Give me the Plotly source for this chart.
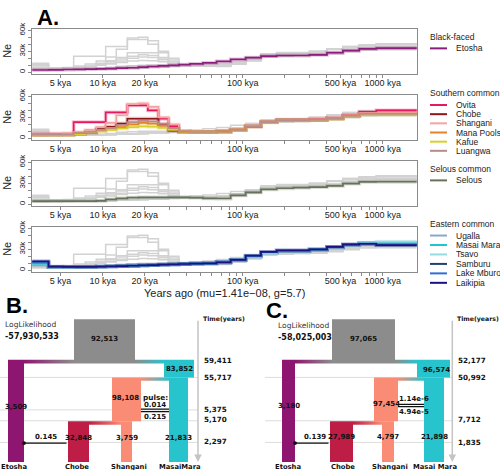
import plotly.graph_objects as go

W, H = 500, 470

# ------------------------------------------------------------------ data (panel A)
SEG_BOUNDS = [3000, 4100, 5200, 6200, 7500, 9000, 10500, 12500, 15000, 18000, 21000,
              25000, 29500, 35000, 42000, 52000, 65000, 82000, 105000, 135000, 175000,
              230000, 300000, 400000, 520000, 680000, 900000, 1800000]

# Ne in thousands per time segment
ETOSHA = [3.3, 3.5, 4.0, 4.3, 4.6, 5.0, 5.4, 5.9, 6.5, 7.5, 8.3, 9.2, 10, 11, 12, 13.5, 15.5, 18.5, 21, 23, 24, 24, 25, 28, 31, 33.5, 34.5]

OVITA = [6.5, 6.5, 6.5, 23, 23, 23, 37, 37, 47, 47, 40, 28, 17.5, 9.7, 9, 9, 9.5, 12, 17, 23, 26, 26.5, 27, 29, 33, 38, 40]
CHOBE = [5, 5, 5, 6, 8, 13, 16.5, 21, 28, 28, 28, 19, 11, 9, 9, 9, 9.5, 12, 17, 23, 26, 26, 26.5, 28.5, 32, 35, 35]
SHANGANI = [6, 6, 7, 9, 12, 16, 22, 33, 49, 50, 45, 30, 20, 10, 9, 9, 9.5, 12.5, 17.5, 23.5, 26, 26, 27, 29, 33, 36, 36]
MANA_POOLS = [5, 5, 5, 7, 9, 11, 13, 16, 20, 22, 21, 18, 13, 9.5, 9, 9, 9.5, 12, 17, 23, 26, 25.5, 26, 28, 32, 34.5, 34.5]
KAFUE = [5, 5, 5, 6, 8, 10, 12, 14, 16, 17, 16.5, 15, 12, 9.5, 9, 9, 9.5, 12, 17, 22.5, 25.5, 25.5, 26, 28, 31.5, 34, 34]
LUANGWA = [5.5, 5.5, 5.5, 7.5, 9, 12, 15, 19, 23, 25, 24, 21, 15, 10, 9, 9, 9.5, 12, 17, 23, 26, 26, 26.5, 28.5, 32, 35, 35]

SELOUS = [4.5, 4.5, 4.5, 4.5, 4.6, 4.8, 7, 8.5, 9.5, 10, 10, 10, 10, 10, 9.5, 8.5, 8.3, 13, 17, 21.5, 23, 24, 24.5, 26.5, 29.5, 32, 32.3]

UGALLA = [7, 4.5, 4.5, 4.7, 5, 5.2, 5.5, 6, 6.5, 7, 7.5, 8, 8.5, 9, 9.5, 10, 11.5, 14, 19, 24.5, 27, 27, 29, 32.5, 36, 39, 40]
MASAI_MARA = [9, 4.5, 4.5, 4.7, 5, 5.2, 5.5, 6, 6.5, 7, 7.5, 8, 8.5, 9, 9.5, 10, 11.5, 14.5, 19.5, 25, 27.5, 27.5, 29.5, 33, 36.5, 39, 39]
TSAVO = [10, 4.3, 4.3, 4.5, 4.8, 5, 5.3, 5.8, 6.3, 6.8, 7.3, 7.8, 8.3, 8.8, 9.3, 10, 11.5, 14.5, 19.5, 25, 27.5, 27.5, 29.5, 33, 36.5, 39.5, 41]
SAMBURU = [11, 5, 5, 5, 5, 5.3, 5.6, 6, 6.5, 7, 7.5, 8, 8.5, 9, 9.5, 10, 11.5, 15, 20.5, 26, 28, 28, 29.5, 33, 36.5, 38, 36]
LAKE_MBURO = [12, 5, 5, 5, 5, 5.3, 5.6, 6, 6.5, 7, 7.5, 8, 8.5, 9, 9.5, 10, 11.5, 15, 20.5, 26, 28, 28, 30, 33.5, 37, 38.5, 37]
LAIKIPIA = [13, 5.2, 5, 5, 5, 5.3, 5.6, 6, 6.5, 7, 7.5, 8, 8.5, 9, 9.5, 10, 11.5, 15, 21, 26.5, 28.5, 28.5, 30, 33.5, 37, 38, 36]

GROUP_TITLES = ["Black-faced", "Southern common", "Selous common", "Eastern common"]
GROUP_MEMBERS = [
    ["Etosha"],
    ["Ovita", "Chobe", "Shangani", "Mana Pools", "Kafue", "Luangwa"],
    ["Selous"],
    ["Ugalla", "Masai Mara", "Tsavo", "Samburu", "Lake Mburo", "Laikipia"],
]
NE = {
    "Etosha": ETOSHA, "Ovita": OVITA, "Chobe": CHOBE, "Shangani": SHANGANI,
    "Mana Pools": MANA_POOLS, "Kafue": KAFUE, "Luangwa": LUANGWA, "Selous": SELOUS,
    "Ugalla": UGALLA, "Masai Mara": MASAI_MARA, "Tsavo": TSAVO, "Samburu": SAMBURU,
    "Lake Mburo": LAKE_MBURO, "Laikipia": LAIKIPIA,
}
COLORS = {
    "Etosha": "#8C1D7A", "Ovita": "#E8185D", "Chobe": "#8E1616", "Shangani": "#F4A3A0",
    "Mana Pools": "#E8822A", "Kafue": "#D8D02A", "Luangwa": "#B98C8C", "Selous": "#66735A",
    "Ugalla": "#8CA7C4", "Masai Mara": "#22C4CE", "Tsavo": "#94DCDD", "Samburu": "#23406E",
    "Lake Mburo": "#2F6FD0", "Laikipia": "#1B1282",
}

XTICK_VALS = [5000, 10000, 20000, 30000, 40000, 50000, 60000, 70000, 80000, 90000, 100000,
              200000, 300000, 400000, 500000, 600000, 700000, 800000, 900000, 1000000]
XTICK_TEXT = ["5 kya", "10 kya", "20 kya", "", "", "", "", "", "", "", "100 kya",
              "", "", "", "500 kya", "", "", "", "", "1000 kya"]
YTICK_VALS = [0, 10000, 20000, 30000, 40000, 50000, 60000]
YTICK_TEXT = ["0", "", "", "30k", "", "", "60k"]
X_TITLE = "Years ago (mu=1.41e\u221208, g=5.7)"

# ------------------------------------------------------------------ data (panels B, C)
B_SIZES = [92513, 3509, 32848, 98108, 3759, 83852, 21833]   # anc, Etosha, Chobe, Shangani anc, Shangani, MasaiMara anc, MasaiMara
B_TIMES = [59411, 55717, 5375, 5170, 2297]
B_MIG = 0.145
B_PULSE = ["0.014", "0.215"]
B_LOGLIK = -57930533
B_NAMES = ["Etosha", "Chobe", "Shangani", "MasaiMara"]

C_SIZES = [97065, 3180, 27989, 97454, 4797, 96574, 21898]
C_TIMES = [52177, 50992, 7712, 1835]
C_MIG = 0.139
C_RATES = ["1.14e-6", "4.94e-5"]
C_LOGLIK = -58025003
C_NAMES = ["Etosha", "Chobe", "Shangani", "Masai Mara"]

# ------------------------------------------------------------------ layout settings
FONT_A = "Liberation Sans, Arial, sans-serif"
FONT_D = "DejaVu Sans, Verdana, sans-serif"
AX_COL = "#8a8a8a"
GRAY_LINE = "#D2D2D2"
PANEL_TOP = [22, 89, 156, 223]
PANEL_H = 46
X_LEFT, X_RIGHT = 32.3, 416.7
LEG_TITLE_Y = [30, 87.5, 164, 220]
LEG_STEP = [9.5, 9.3, 9.5, 9.6]


def px(x):
    return x / W


def py(y):
    return 1 - y / H


fig = go.Figure()
shapes = []
anns = []


def ptext(x, y, s, size, anchor="center", angle=0, family=FONT_A, color="#222"):
    anns.append(dict(x=px(x), y=py(y), xref="paper", yref="paper", text=s, textangle=angle,
                     xanchor=anchor, yanchor="middle", showarrow=False,
                     font=dict(family=family, size=size, color=color)))


# ------------------------------------------------------------------ panel A
for i, members in enumerate(GROUP_MEMBERS):
    xa = "x" if i == 0 else f"x{i+1}"
    ya = "y" if i == 0 else f"y{i+1}"
    others = [n for n in NE if n not in members]
    for n in others:
        vals = [v * 1000 for v in NE[n]]
        fig.add_trace(go.Scatter(x=SEG_BOUNDS, y=vals + [vals[-1]], mode="lines",
                                 line=dict(color=GRAY_LINE, width=1.5, shape="hv"),
                                 xaxis=xa, yaxis=ya, showlegend=False, hoverinfo="skip"))
    for n in members:
        vals = [v * 1000 for v in NE[n]]
        fig.add_trace(go.Scatter(x=SEG_BOUNDS, y=vals + [vals[-1]], mode="lines",
                                 line=dict(color=COLORS[n], width=3.8, shape="hv"), opacity=0.25,
                                 xaxis=xa, yaxis=ya, showlegend=False, hoverinfo="skip"))
    for n in members:
        vals = [v * 1000 for v in NE[n]]
        fig.add_trace(go.Scatter(x=SEG_BOUNDS, y=vals + [vals[-1]], mode="lines",
                                 line=dict(color=COLORS[n], width=1.7, shape="hv"),
                                 xaxis=xa, yaxis=ya, showlegend=False, name=n))

    top = PANEL_TOP[i]
    bot = top + PANEL_H
    xkey = "xaxis" if i == 0 else f"xaxis{i+1}"
    ykey = "yaxis" if i == 0 else f"yaxis{i+1}"
    fig.layout[xkey] = dict(type="log", range=[3.497, 6.243], domain=[px(X_LEFT), px(X_RIGHT)],
                            anchor=ya, tickmode="array", tickvals=XTICK_VALS, ticktext=XTICK_TEXT,
                            ticks="outside", ticklen=3, tickcolor=AX_COL, showline=True,
                            linecolor=AX_COL, linewidth=1, mirror=True, showgrid=False,
                            zeroline=False, ticklabelstandoff=-3,
                            tickfont=dict(family=FONT_A, size=9, color="#222"))
    fig.layout[ykey] = dict(range=[-2400, 62400], domain=[py(bot), py(top)], anchor=xa,
                            tickmode="array", tickvals=YTICK_VALS, ticktext=YTICK_TEXT,
                            tickangle=-90, ticks="outside", ticklen=3, tickcolor=AX_COL,
                            showline=True, linecolor=AX_COL, linewidth=1, mirror=True,
                            showgrid=False, zeroline=False,
                            tickfont=dict(family=FONT_A, size=8, color="#222"))
    ptext(7.5, top + PANEL_H / 2, "Ne", 11, angle=-90)

    # legend
    ty = LEG_TITLE_Y[i]
    ptext(428, ty, GROUP_TITLES[i], 8.5, anchor="left")
    for k, n in enumerate(members):
        ey = ty + 12 + k * LEG_STEP[i]
        shapes.append(dict(type="line", xref="paper", yref="paper", x0=px(430), x1=px(447),
                           y0=py(ey), y1=py(ey), line=dict(color=COLORS[n], width=2)))
        ptext(454, ey, n, 8.5, anchor="left")

ptext(48, 11, "<b>A.</b>", 22, color="#000")
ptext(224, 290, X_TITLE, 11)

# ------------------------------------------------------------------ panels B & C
C_ETO, C_CHOBE, C_SHAN, C_MARA, C_ANC = "#8E1670", "#BE1E45", "#FA8C76", "#28C4CD", "#8C8C8C"

GEO_B = dict(ex=(8, 24), cx=(68, 89), sa=(112, 141), sx=(121, 132), ma=(164, 194), mx=(169, 188),
             ax=(74, 135), ytop=317, ysplit=358, yms=376, ych=420.5, ybot=462, axis_x=198, gx0=0,
             grid_y=[376, 409, 420, 442], tl_y=[358.5, 375.7, 408.8, 418.5, 441.2],
             mig_y=442.7, pulse_y=(408.3, 410.7), ll_x=3, ll_y=(322.5, 334.5), eto_lab_y=406.5,
             sa_lab=(125, 397), ma_lab=(179, 367.5), cur_lab_y=437.3, mig_lab=(46, 436.8),
             pulse_lab_y=(396, 404, 416), pulse_lab_x=155, name_y=466.5,
             name_x=[14, 77, 129, 180], letter=(17, 303))
GEO_C = dict(ex=(282, 295), cx=(330, 353), sa=(374, 398), sx=(382, 394), ma=(417, 450), mx=(424, 444),
             ax=(332, 395), ytop=317, ysplit=358, yms=376, ych=420.5, ybot=462, axis_x=452.3, gx0=265,
             grid_y=[376, 420, 442], tl_y=[358.5, 375.7, 419, 441.7],
             mig_y=442.7, pulse_y=(403.3, 405.7), ll_x=276, ll_y=(323.3, 335), eto_lab_y=405,
             sa_lab=(386, 403.3), ma_lab=(436, 368.3), cur_lab_y=436.7, mig_lab=(315, 436.7),
             pulse_lab_y=(None, 398.3, 410.7), pulse_lab_x=413.5, name_y=466.7,
             name_x=[288, 343, 390, 435], letter=(277, 308))


def dtext(x, y, s, size=7, bold=True, anchor="center", color="#111"):
    anns.append(dict(x=x, y=y, xref="x5", yref="y5", text=(f"<b>{s}</b>" if bold else s),
                     xanchor=anchor, yanchor="middle", showarrow=False,
                     font=dict(family=FONT_D, size=size, color=color)))


def rect(x0, x1, y0, y1, color):
    shapes.append(dict(type="rect", xref="x5", yref="y5", x0=x0, x1=x1, y0=y0, y1=y1,
                       fillcolor=color, line=dict(width=0), layer="below"))


def grad(x0, x1, y0, y1, c0, c1):
    fig.add_trace(go.Scatter(x=[x0, x1, x1, x0, x0], y=[y0, y0, y1, y1, y0], mode="lines",
                             line=dict(width=0), fill="toself",
                             fillgradient=dict(type="horizontal", colorscale=[[0, c0], [1, c1]]),
                             xaxis="x5", yaxis="y5", showlegend=False, hoverinfo="skip"))


def model(g, sizes, times, mig, pulse_txt, loglik, names, letter, pulse_title):
    for gy in g["grid_y"]:
        shapes.append(dict(type="line", xref="x5", yref="y5", x0=g["gx0"], x1=g["axis_x"],
                           y0=gy, y1=gy, line=dict(color="#DCDCDC", width=1), layer="below"))
    ys, yms, ych, yb = g["ysplit"], g["yms"], g["ych"], g["ybot"]
    rect(*g["ax"], g["ytop"], ys + 4, C_ANC)
    rect(*g["ex"], ys, yb, C_ETO)
    rect(*g["ma"], ys, yms, C_MARA)
    rect(*g["mx"], yms, yb, C_MARA)
    rect(*g["sa"], yms, ych, C_SHAN)
    rect(*g["sx"], ych, yb, C_SHAN)
    rect(*g["cx"], ych, yb, C_CHOBE)
    grad(g["ex"][1], g["ax"][0], ys, ys + 4, C_ETO, C_ANC)
    grad(g["ax"][1], g["ma"][0], ys, ys + 4, C_ANC, C_MARA)
    grad(g["sa"][1], g["mx"][0], yms, yms + 3.5, C_SHAN, C_MARA)
    grad(g["cx"][1], g["sx"][0], ych, ych + 3.5, C_CHOBE, C_SHAN)

    # time axis
    anns.append(dict(x=g["axis_x"], y=g["ybot"], ax=g["axis_x"], ay=g["ytop"], xref="x5", yref="y5",
                     axref="x5", ayref="y5", text="", showarrow=True, arrowhead=2, arrowsize=1,
                     arrowwidth=1.5, arrowcolor="#C4C4C4"))
    dtext(g["axis_x"] + 2.5, g["ytop"], "Time(years)", size=6.2, anchor="left")
    for t, y in zip(times, g["tl_y"]):
        dtext(g["axis_x"] + 3.5, y, f"{t:,}", size=7.2, anchor="left")

    # migration pulse arrow
    anns.append(dict(x=g["ex"][1], y=g["mig_y"], ax=g["cx"][0], ay=g["mig_y"], xref="x5", yref="y5",
                     axref="x5", ayref="y5", text="", showarrow=True, arrowhead=6, arrowsize=0.7,
                     arrowwidth=1.4, arrowcolor="#111"))
    dtext(g["mig_lab"][0], g["mig_lab"][1], f"{mig}", size=7)
    # lines between Shangani and Masai Mara
    for yy in g["pulse_y"]:
        shapes.append(dict(type="line", xref="x5", yref="y5", x0=g["sa"][1], x1=g["mx"][0],
                           y0=yy, y1=yy, line=dict(color="#111", width=1.2)))
    if pulse_title:
        dtext(g["pulse_lab_x"], g["pulse_lab_y"][0], pulse_title, size=7.3)
    dtext(g["pulse_lab_x"], g["pulse_lab_y"][1], pulse_txt[0], size=7)
    dtext(g["pulse_lab_x"], g["pulse_lab_y"][2], pulse_txt[1], size=7)

    # sizes
    dtext(sum(g["ax"]) / 2, (g["ytop"] + ys) / 2, f"{sizes[0]:,}")
    dtext(sum(g["ex"]) / 2, g["eto_lab_y"], f"{sizes[1]:,}")
    dtext(sum(g["cx"]) / 2, g["cur_lab_y"], f"{sizes[2]:,}")
    dtext(g["sa_lab"][0], g["sa_lab"][1], f"{sizes[3]:,}")
    dtext(sum(g["sx"]) / 2, g["cur_lab_y"], f"{sizes[4]:,}")
    dtext(g["ma_lab"][0], g["ma_lab"][1], f"{sizes[5]:,}")
    dtext(sum(g["mx"]) / 2, g["cur_lab_y"], f"{sizes[6]:,}")

    dtext(g["ll_x"], g["ll_y"][0], "LogLikelihood", size=7.5, bold=False, anchor="left", color="#333")
    dtext(g["ll_x"], g["ll_y"][1], f"{loglik:,}", size=8, anchor="left")
    for nm, x in zip(names, g["name_x"]):
        dtext(x, g["name_y"], nm, size=6.8)
    anns.append(dict(x=g["letter"][0], y=g["letter"][1], xref="x5", yref="y5",
                     text=f"<b>{letter}</b>", showarrow=False, xanchor="center", yanchor="middle",
                     font=dict(family=FONT_A, size=22, color="#000")))


model(GEO_B, B_SIZES, B_TIMES, B_MIG, B_PULSE, B_LOGLIK, B_NAMES, "B.", "pulse:")
model(GEO_C, C_SIZES, C_TIMES, C_MIG, C_RATES, C_LOGLIK, C_NAMES, "C.", None)

fig.layout["xaxis5"] = dict(domain=[0, 1], range=[0, W], anchor="y5", visible=False, fixedrange=True)
fig.layout["yaxis5"] = dict(domain=[0, 180 / H], range=[H, 290], anchor="x5", visible=False,
                            fixedrange=True)

fig.update_layout(width=W, height=H, margin=dict(l=0, r=0, t=0, b=0),
                  paper_bgcolor="white", plot_bgcolor="rgba(0,0,0,0)",
                  showlegend=False, shapes=shapes, annotations=anns)

fig.write_html("out.html", config={"displayModeBar": False},
               post_script="document.body.style.margin='0px';")
